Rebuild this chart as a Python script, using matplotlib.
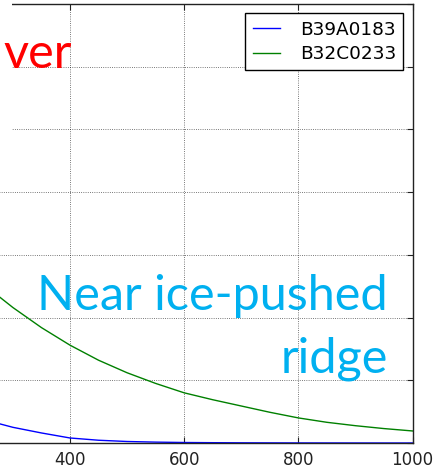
import matplotlib
matplotlib.use("Agg")
import matplotlib.pyplot as plt
from matplotlib.patches import Rectangle

# distance values and the two curves
dist = [275, 300, 350, 400, 450, 500, 550, 600, 650, 700, 750, 800, 850, 900, 950, 1000]
b39a0183 = [0.155, 0.125, 0.08, 0.04, 0.022, 0.012, 0.007, 0.004, 0.0025, 0.0015,
            0.001, 0.0006, 0.0004, 0.0002, 0.0001, 0.00005]
b32c0233 = [1.17, 1.08, 0.92, 0.78, 0.66, 0.56, 0.475, 0.40, 0.345, 0.295,
            0.245, 0.20, 0.165, 0.138, 0.115, 0.096]
series_names = ["B39A0183", "B32C0233"]
xticks = [400, 600, 800, 1000]
yticks = [0, 0.5, 1.0, 1.5, 2.0, 2.5, 3.0, 3.5]

W, H = 436, 469
fig = plt.figure(figsize=(W / 100, H / 100), dpi=100, facecolor="white")

# axes is wider than the crop: only its right part is visible
px_per_unit = 342.5 / 600
left_px = 412.5 - 1000 * px_per_unit
ax = fig.add_axes([left_px / W, 26 / H, 1000 * px_per_unit / W, 439 / H])

ax.plot(dist, b39a0183, color="b", lw=1.0, label=series_names[0])
ax.plot(dist, b32c0233, color="g", lw=1.0, label=series_names[1])

ax.set_xlim(0, 1000)
ax.set_ylim(0, 3.5)
ax.set_xticks(xticks)
ax.set_yticks(yticks)
ax.set_yticklabels([])
ax.tick_params(direction="in", top=True, right=True, length=4, labelsize=12,
               colors="#222222", pad=6)
ax.grid(True, linestyle=":", color="k", linewidth=0.6, alpha=0.7)
for s in ax.spines.values():
    s.set_color("#222222")
    s.set_linewidth(1.0)

leg = ax.legend(loc="upper right", fontsize=13.3, fancybox=False, framealpha=1,
                handlelength=1.5, handletextpad=1.05, borderaxespad=0.5,
                labelspacing=0.35, borderpad=0.4)
leg.get_frame().set_edgecolor("black")
leg.get_frame().set_linewidth(1.0)

# white block left of the red label (covers the grid)
fig.patches.append(Rectangle((0, 1 - 135 / H), 12 / W, 135 / H, transform=fig.transFigure,
                             facecolor="white", edgecolor="none", zorder=1))

fig.text(72 / W, 1 - 68 / H, "ver", color="#FF0000", fontsize=35, family="Lato",
         ha="right", va="baseline", zorder=2)
fig.text(388 / W, 1 - 310 / H, "Near ice-pushed", color="#00B0F0", fontsize=35,
         family="Lato", ha="right", va="baseline", zorder=2)
fig.text(388 / W, 1 - 372 / H, "ridge", color="#00B0F0", fontsize=35,
         family="Lato", ha="right", va="baseline", zorder=2)

fig.savefig("out.png", dpi=100, facecolor="white")
